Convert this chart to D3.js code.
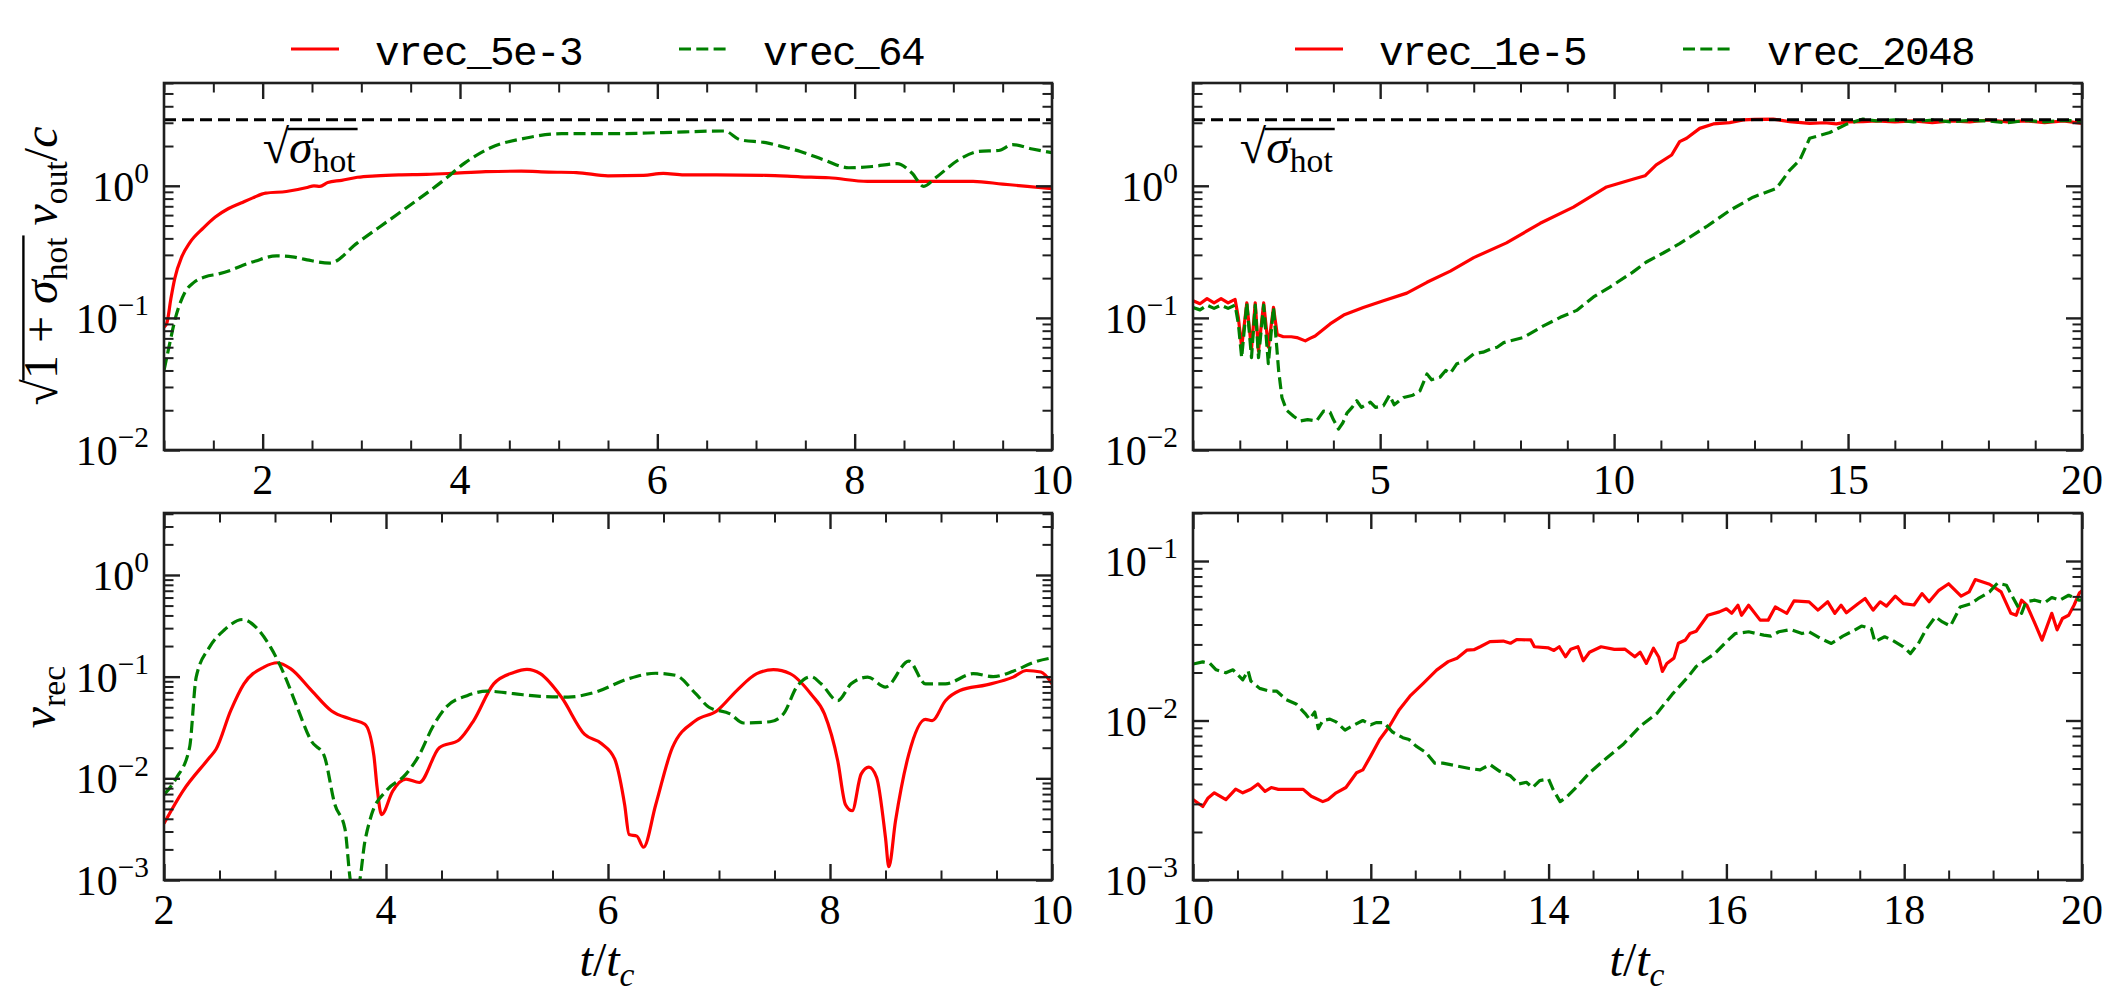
<!DOCTYPE html>
<html><head><meta charset="utf-8">
<script src="https://cdn.jsdelivr.net/npm/d3@7/dist/d3.min.js"></script>
<style>body{margin:0;background:#fff;} svg{display:block;}</style>
</head><body>
<svg id="c" width="2117" height="1000"></svg>
<script>
// ---------------- DATA ----------------
const sigmaHot = 10;
// top-left: sqrt(1+sigma) v_out / c
const tOut5e3 = [1.0,1.03,1.07,1.11,1.18,1.26,1.4,1.52,1.65,1.78,1.9,2.03,2.24,2.45,2.52,2.58,2.66,2.8,2.96,3.15,3.38,3.66,3.9,4.26,4.62,4.9,5.18,5.5,5.86,6.06,6.27,6.6,7.1,7.45,7.74,8.13,8.4,8.67,9.2,9.5,9.75,10.0];
const vOut5e3 = [0.085,0.092,0.14,0.2,0.29,0.37,0.48,0.58,0.67,0.74,0.81,0.88,0.905,0.97,1.0,0.99,1.06,1.1,1.16,1.19,1.21,1.22,1.24,1.28,1.29,1.27,1.26,1.19,1.2,1.24,1.21,1.21,1.2,1.17,1.15,1.08,1.08,1.08,1.08,1.03,0.99,0.95];
const tOut64 = [1.0,1.05,1.11,1.21,1.3,1.42,1.55,1.68,1.8,1.93,2.14,2.3,2.45,2.68,2.96,3.38,3.84,4.05,4.31,4.67,5.03,5.55,6.06,6.68,6.84,7.1,7.3,7.45,7.69,7.94,8.18,8.43,8.58,8.7,8.82,9.07,9.26,9.46,9.6,9.8,10.0];
const vOut64 = [0.04,0.06,0.096,0.155,0.185,0.205,0.215,0.23,0.25,0.27,0.295,0.29,0.275,0.26,0.37,0.62,1.11,1.49,1.94,2.3,2.48,2.48,2.53,2.6,2.23,2.12,1.95,1.82,1.57,1.37,1.4,1.47,1.25,0.99,1.15,1.6,1.82,1.85,2.05,1.9,1.78];
// top-right
const tOut1e5 = [1.0,1.15,1.3,1.45,1.6,1.75,1.9,1.97,2.04,2.15,2.25,2.33,2.4,2.51,2.61,2.72,2.8,2.93,3.1,3.22,3.4,3.5,3.61,3.93,4.22,4.64,5.07,5.57,6.0,6.5,7.0,7.7,8.42,9.13,9.84,10.4,10.66,10.9,11.23,11.4,11.55,11.83,12.12,12.47,12.76,13.0,13.4,13.75,14.18,14.5,14.75,15.0,15.32,15.6,16.0,16.4,16.8,17.2,17.6,18.0,18.4,18.8,19.2,19.6,20];
const vOut1e5 = [0.135,0.128,0.14,0.13,0.14,0.13,0.138,0.10,0.06,0.13,0.058,0.13,0.056,0.13,0.06,0.12,0.075,0.072,0.072,0.071,0.067,0.07,0.073,0.09,0.105,0.12,0.135,0.154,0.186,0.226,0.286,0.37,0.52,0.69,0.98,1.12,1.19,1.44,1.71,2.16,2.29,2.72,2.94,3.01,3.15,3.18,3.2,3.06,2.97,3.0,2.94,3.05,3.06,3.1,3.05,3.1,3.0,3.1,3.05,3.15,3.05,3.1,3.0,3.1,2.97];
const tOut2048 = [1.0,1.15,1.3,1.45,1.6,1.75,1.9,1.97,2.04,2.15,2.25,2.33,2.4,2.51,2.61,2.72,2.79,2.83,2.9,3.0,3.15,3.29,3.45,3.64,3.79,3.93,4.0,4.11,4.2,4.29,4.4,4.5,4.6,4.79,4.9,5.07,5.2,5.3,5.5,5.7,5.85,6.0,6.1,6.28,6.4,6.5,6.64,6.8,7.0,7.2,7.35,7.5,7.64,7.78,8.06,8.49,8.85,9.2,9.56,9.91,10.4,10.69,11.05,11.4,11.97,12.47,12.97,13.47,13.75,13.97,14.18,14.61,14.96,15.32,15.6,16.0,16.4,16.8,17.2,17.6,18.0,18.4,18.8,19.2,19.6,20];
const vOut2048 = [0.12,0.115,0.125,0.118,0.125,0.118,0.125,0.09,0.05,0.13,0.05,0.125,0.05,0.125,0.045,0.12,0.06,0.04,0.025,0.02,0.018,0.0166,0.017,0.0166,0.0197,0.0193,0.017,0.0144,0.016,0.019,0.021,0.0236,0.021,0.023,0.021,0.0216,0.026,0.022,0.025,0.026,0.028,0.0376,0.034,0.0356,0.04,0.038,0.045,0.047,0.0535,0.055,0.058,0.06,0.065,0.067,0.071,0.087,0.101,0.114,0.144,0.171,0.222,0.265,0.31,0.365,0.49,0.65,0.82,0.955,1.31,1.57,2.29,2.53,2.92,3.2,3.1,3.15,3.05,3.15,3.05,3.12,3.1,3.0,3.12,3.05,3.12,3.1];
// bottom-left: v_rec
const tRec5e3 = [2.0,2.17,2.41,2.47,2.6,2.72,2.9,3.02,3.14,3.33,3.51,3.69,3.81,3.89,3.92,3.96,4.06,4.18,4.3,4.48,4.66,4.79,4.97,5.15,5.27,5.39,5.58,5.79,5.94,6.06,6.15,6.19,6.26,6.32,6.43,6.58,6.79,6.98,7.16,7.34,7.49,7.64,7.83,7.95,8.07,8.14,8.2,8.28,8.35,8.42,8.5,8.53,8.59,8.71,8.86,8.92,9.04,9.17,9.41,9.65,9.77,9.9,10.0];
const vRec5e3 = [0.0036,0.0075,0.016,0.0194,0.046,0.085,0.124,0.137,0.12,0.073,0.046,0.038,0.034,0.017,0.0081,0.0044,0.0075,0.0098,0.0091,0.02,0.024,0.037,0.085,0.11,0.118,0.107,0.063,0.027,0.022,0.0155,0.0055,0.0028,0.0027,0.0021,0.0055,0.02,0.037,0.046,0.073,0.107,0.117,0.107,0.067,0.043,0.0148,0.0055,0.0048,0.011,0.0129,0.0102,0.0026,0.00135,0.0038,0.0173,0.038,0.037,0.058,0.073,0.083,0.099,0.115,0.111,0.085];
const tRec64 = [2.0,2.11,2.23,2.29,2.41,2.54,2.71,2.84,2.96,3.08,3.2,3.33,3.44,3.54,3.63,3.69,3.75,3.81,3.87,4.0,4.18,4.3,4.42,4.54,4.73,4.91,5.15,5.39,5.64,5.88,6.18,6.43,6.61,6.79,6.91,7.1,7.22,7.46,7.58,7.7,7.83,7.92,8.07,8.19,8.34,8.5,8.71,8.86,9.04,9.29,9.47,9.65,9.84,10.0];
const vRec64 = [0.0069,0.01,0.02,0.099,0.195,0.286,0.365,0.297,0.195,0.107,0.05,0.023,0.017,0.0055,0.0032,0.0009,0.0009,0.0024,0.0044,0.0075,0.011,0.017,0.032,0.05,0.065,0.072,0.068,0.064,0.063,0.07,0.095,0.108,0.103,0.068,0.05,0.043,0.035,0.036,0.043,0.079,0.1,0.085,0.058,0.085,0.099,0.079,0.142,0.085,0.085,0.107,0.1,0.113,0.139,0.153];
// bottom-right
const tRec1e5 = [10.0,10.11,10.17,10.24,10.37,10.48,10.56,10.65,10.73,10.81,10.88,10.96,11.09,11.24,11.33,11.46,11.52,11.61,11.72,11.84,11.91,12.0,12.1,12.21,12.32,12.44,12.59,12.74,12.87,12.97,13.08,13.16,13.23,13.34,13.49,13.57,13.64,13.8,13.84,14.0,14.06,14.12,14.19,14.25,14.33,14.39,14.46,14.59,14.74,14.86,14.97,15.03,15.1,15.18,15.24,15.28,15.33,15.41,15.46,15.54,15.59,15.66,15.79,15.92,16.0,16.06,16.13,16.17,16.25,16.38,16.47,16.55,16.68,16.76,16.93,17.03,17.14,17.22,17.29,17.35,17.48,17.56,17.65,17.73,17.8,17.9,17.99,18.11,18.2,18.28,18.39,18.5,18.64,18.73,18.8,18.96,19.09,19.2,19.26,19.32,19.38,19.47,19.55,19.66,19.72,19.78,19.85,19.91,19.97,20.0];
const vRec1e5 = [0.00319,0.00289,0.00327,0.00352,0.00319,0.00371,0.00352,0.00371,0.0040,0.0036,0.0038,0.0037,0.0037,0.0037,0.00335,0.0031,0.0032,0.00352,0.0038,0.0047,0.0049,0.006,0.0076,0.0092,0.0117,0.0142,0.0171,0.0207,0.0234,0.0246,0.0276,0.0278,0.029,0.0312,0.0315,0.0305,0.0322,0.032,0.029,0.0285,0.0275,0.029,0.0251,0.028,0.029,0.0237,0.0268,0.029,0.0279,0.028,0.0251,0.0268,0.0228,0.0284,0.0249,0.0203,0.0228,0.0246,0.0305,0.032,0.0351,0.0363,0.0457,0.048,0.0502,0.047,0.0528,0.0457,0.0528,0.0426,0.0426,0.0515,0.047,0.0562,0.0555,0.0492,0.0555,0.047,0.0528,0.0474,0.054,0.0582,0.0492,0.0555,0.0521,0.0602,0.054,0.053,0.0625,0.0555,0.0655,0.072,0.0602,0.064,0.0765,0.0715,0.064,0.047,0.0457,0.0568,0.0528,0.0406,0.0319,0.047,0.037,0.0436,0.0457,0.0528,0.063,0.065];
const tRec2048 = [10.0,10.11,10.19,10.26,10.37,10.45,10.56,10.62,10.65,10.75,10.86,10.94,11.05,11.16,11.26,11.31,11.37,11.41,11.46,11.54,11.61,11.71,11.8,11.91,12.0,12.06,12.15,12.24,12.36,12.43,12.51,12.62,12.72,12.81,12.96,13.11,13.23,13.34,13.45,13.57,13.66,13.75,13.82,13.9,14.0,14.05,14.13,14.2,14.31,14.46,14.65,14.84,15.03,15.22,15.4,15.57,15.66,15.87,16.0,16.1,16.25,16.42,16.5,16.59,16.72,16.85,16.93,17.06,17.18,17.31,17.44,17.52,17.63,17.67,17.78,17.86,17.99,18.07,18.16,18.24,18.35,18.43,18.52,18.63,18.75,18.83,18.96,19.05,19.15,19.22,19.32,19.37,19.47,19.58,19.66,19.75,19.85,19.97,20.0];
const vRec2048 = [0.0226,0.0233,0.0228,0.0208,0.0199,0.0208,0.018,0.0205,0.0177,0.0159,0.0153,0.0153,0.0135,0.0127,0.0111,0.0102,0.0113,0.0089,0.01,0.0102,0.0098,0.0087,0.0093,0.01,0.0094,0.0097,0.0097,0.0085,0.0078,0.0076,0.0069,0.0063,0.0054,0.0054,0.0052,0.005,0.0049,0.0053,0.0048,0.0045,0.004,0.0041,0.0038,0.0042,0.0043,0.0037,0.0031,0.0033,0.0038,0.0047,0.0058,0.0071,0.0092,0.0111,0.0148,0.0188,0.0218,0.0263,0.0312,0.0351,0.036,0.0343,0.0338,0.036,0.0372,0.0351,0.036,0.0327,0.0304,0.0338,0.0368,0.0391,0.0377,0.0312,0.0335,0.032,0.029,0.0263,0.0304,0.0368,0.0447,0.0415,0.0391,0.0515,0.054,0.058,0.064,0.0728,0.0705,0.0595,0.047,0.0555,0.0568,0.0547,0.059,0.0568,0.061,0.0568,0.057];

const legendLeft = ["vrec_5e-3", "vrec_64"];
const legendRight = ["vrec_1e-5", "vrec_2048"];
const xTicksTL = [2,4,6,8,10];
const xTicksTR = [5,10,15,20];
const xTicksBL = [2,4,6,8,10];
const xTicksBR = [10,12,14,16,18,20];

// ---------------- STYLE ----------------
const SERIF = "'Liberation Serif','DejaVu Serif',serif";
const MONO = "'Liberation Mono','DejaVu Sans Mono',monospace";
const RED = "#ff0000", GREEN = "#008000", AX = "#1f1f1f";
const LW = 3.2, DASH = "12,5.3";
const TICK_FS = 42, LAB_FS = 48;

const svg = d3.select("#c");
svg.append("rect").attr("width",2117).attr("height",1000).attr("fill","#fff");

function mathText(parent, x, y, runs, o) {
  const size = o.size;
  const g = parent.append("g").attr("transform", `translate(${x},${y})` + (o.rot ? ` rotate(${o.rot})` : ""));
  const t = g.append("text").attr("font-family", SERIF).attr("font-size", size)
    .attr("text-anchor", o.anchor || "start").style("white-space","pre").attr("fill","#000");
  let cur = 0, idx = 0, over = null, rootIdx = -1;
  runs.forEach(r => {
    const sh = r.sub ? size*0.2 : r.sup ? -size*0.42 : 0;
    const ts = t.append("tspan").attr("dy", sh - cur).text(r.s);
    cur = sh;
    if (r.sub || r.sup) ts.attr("font-size", size*0.7);
    if (r.it) ts.style("font-style","italic");
    if (r.root) { rootIdx = idx; ts.attr("font-size", size*(o.rootScale||1.0)); }
    if (r.over) { if (!over) over = [idx, idx + r.s.length - 1]; else over[1] = idx + r.s.length - 1; }
    idx += r.s.length;
  });
  if (over && rootIdx >= 0) {
    const n = t.node();
    const er = n.getExtentOfChar(rootIdx);
    const e2 = n.getExtentOfChar(over[1]);
    const yb = -size*(o.barH || 0.78);
    g.append("line").attr("x1", er.x + er.width - 1.5).attr("x2", e2.x + e2.width + 2)
      .attr("y1", yb).attr("y2", yb).attr("stroke","#000").attr("stroke-width", size*0.05);
  }
  return g;
}

function tickAxis(g, axisFn, scale, vals, len, transform, w) {
  const a = axisFn(scale).tickValues(vals).tickSize(-len).tickFormat("");
  const ag = g.append("g").attr("transform", transform).call(a);
  ag.select(".domain").remove();
  ag.selectAll("text").remove();
  ag.selectAll("line").attr("stroke", AX).attr("stroke-width", w);
}

const supMinus = e => (e < 0 ? "\u2212" + (-e) : String(e));

const panels = [
  { key:"tl", x0:164, x1:1052, y0:83, y1:450, xd:[1,10], yd:[1e-2,6], xMaj:xTicksTL, xMinStep:0.5,
    series:[{t:tOut5e3,v:vOut5e3,c:RED,dash:null},{t:tOut64,v:vOut64,c:GREEN,dash:DASH}], hline:true, smooth:true },
  { key:"tr", x0:1193, x1:2082, y0:83, y1:450, xd:[1,20], yd:[1e-2,6], xMaj:xTicksTR, xMinStep:1,
    series:[{t:tOut1e5,v:vOut1e5,c:RED,dash:null},{t:tOut2048,v:vOut2048,c:GREEN,dash:DASH}], hline:true, smooth:false },
  { key:"bl", x0:164, x1:1052, y0:513, y1:880, xd:[2,10], yd:[1e-3,4.07], xMaj:xTicksBL, xMinStep:0.5,
    series:[{t:tRec5e3,v:vRec5e3,c:RED,dash:null},{t:tRec64,v:vRec64,c:GREEN,dash:DASH}], hline:false, smooth:true },
  { key:"br", x0:1193, x1:2082, y0:513, y1:880, xd:[10,20], yd:[1e-3,0.2], xMaj:xTicksBR, xMinStep:0.5,
    series:[{t:tRec1e5,v:vRec1e5,c:RED,dash:null},{t:tRec2048,v:vRec2048,c:GREEN,dash:DASH}], hline:false, smooth:false },
];

panels.forEach(p => {
  const x = d3.scaleLinear().domain(p.xd).range([p.x0, p.x1]);
  const y = d3.scaleLog().domain(p.yd).range([p.y1, p.y0]);
  const g = svg.append("g");
  const cid = "clip-" + p.key;
  svg.append("clipPath").attr("id", cid).append("rect")
    .attr("x", p.x0).attr("y", p.y0).attr("width", p.x1 - p.x0).attr("height", p.y1 - p.y0);
  const plot = g.append("g").attr("clip-path", `url(#${cid})`);

  const line = d3.line().x(d => x(d[0])).y(d => y(d[1]))
    .curve(p.smooth ? d3.curveMonotoneX : d3.curveLinear);
  p.series.forEach(s => {
    plot.append("path").datum(d3.zip(s.t, s.v)).attr("d", line)
      .attr("fill","none").attr("stroke", s.c).attr("stroke-width", LW)
      .attr("stroke-linejoin","round").attr("stroke-dasharray", s.dash);
  });
  if (p.hline) {
    const hv = Math.sqrt(sigmaHot);
    plot.append("line").attr("x1", p.x0).attr("x2", p.x1).attr("y1", y(hv)).attr("y2", y(hv))
      .attr("stroke","#000").attr("stroke-width", LW).attr("stroke-dasharray","12,6");
    mathText(g, x(2.0), y(1.5), [{s:"\u221A", root:true},{s:"\u03C3", it:true, over:true},{s:"hot", sub:true, over:true}],
      {size: LAB_FS, barH: 0.7});
  }

  // ticks
  const xMin = d3.range(p.xd[0], p.xd[1] + 1e-9, p.xMinStep).filter(v => !p.xMaj.some(m => Math.abs(m - v) < 1e-9));
  const lo = Math.floor(Math.log10(p.yd[0])), hi = Math.ceil(Math.log10(p.yd[1]));
  const yMaj = d3.range(lo, hi + 1).map(e => Math.pow(10, e)).filter(v => v >= p.yd[0]*0.999 && v <= p.yd[1]*1.001);
  const yMin = [];
  for (let e = lo; e <= hi; e++) for (let k = 2; k <= 9; k++) {
    const v = k * Math.pow(10, e);
    if (v > p.yd[0] && v < p.yd[1]*1.001) yMin.push(v);
  }
  tickAxis(g, d3.axisBottom, x, p.xMaj, 16, `translate(0,${p.y1})`, 2.4);
  tickAxis(g, d3.axisBottom, x, xMin, 9.5, `translate(0,${p.y1})`, 2);
  tickAxis(g, d3.axisTop, x, p.xMaj, 16, `translate(0,${p.y0})`, 2.4);
  tickAxis(g, d3.axisTop, x, xMin, 9.5, `translate(0,${p.y0})`, 2);
  tickAxis(g, d3.axisLeft, y, yMaj, 16, `translate(${p.x0},0)`, 2.4);
  tickAxis(g, d3.axisLeft, y, yMin, 9.5, `translate(${p.x0},0)`, 2);
  tickAxis(g, d3.axisRight, y, yMaj, 16, `translate(${p.x1},0)`, 2.4);
  tickAxis(g, d3.axisRight, y, yMin, 9.5, `translate(${p.x1},0)`, 2);

  g.append("rect").attr("x", p.x0).attr("y", p.y0).attr("width", p.x1 - p.x0).attr("height", p.y1 - p.y0)
    .attr("fill","none").attr("stroke", AX).attr("stroke-width", 2.6);

  // tick labels
  p.xMaj.forEach(v => {
    g.append("text").attr("x", x(v)).attr("y", p.y1 + 44).attr("text-anchor","middle")
      .attr("font-family", SERIF).attr("font-size", TICK_FS).attr("fill","#000").text(d3.format("d")(v));
  });
  yMaj.forEach(v => {
    const e = Math.round(Math.log10(v));
    mathText(g, p.x0 - 15, y(v) + 15, [{s:"10"},{s:supMinus(e), sup:true}], {size: TICK_FS, anchor:"end"});
  });
});

// axis labels
mathText(svg, 57, 266, [
  {s:"\u221A", root:true},{s:"1 + ", over:true},{s:"\u03C3", it:true, over:true},{s:"hot", sub:true, over:true},
  {s:" "},{s:"v", it:true},{s:"out", sub:true},{s:"/"},{s:"c", it:true}
], {size: LAB_FS, anchor:"middle", rot:-90, barH:0.7});
mathText(svg, 55, 697, [{s:"v", it:true},{s:"rec", sub:true}], {size: LAB_FS, anchor:"middle", rot:-90});
[607, 1637].forEach(cx => {
  mathText(svg, cx, 976, [{s:"t", it:true},{s:"/"},{s:"t", it:true},{s:"c", it:true, sub:true}], {size: LAB_FS, anchor:"middle"});
});

// legends
function legend(items, x0) {
  const gap = 97, lineLen = 48, textOff = 84, charW = 23;
  let xx = x0;
  items.forEach((lab, i) => {
    const c = i === 0 ? RED : GREEN;
    svg.append("line").attr("x1", xx).attr("x2", xx + lineLen).attr("y1", 49).attr("y2", 49)
      .attr("stroke", c).attr("stroke-width", LW).attr("stroke-dasharray", i === 0 ? null : DASH);
    svg.append("text").attr("x", xx + textOff).attr("y", 65).attr("font-family", MONO)
      .attr("font-size", 41).attr("letter-spacing", -1.6).attr("fill","#000").text(lab);
    xx += textOff + lab.length * charW + gap;
  });
}
legend(legendLeft, 291);
legend(legendRight, 1295);
</script>
</body></html>
